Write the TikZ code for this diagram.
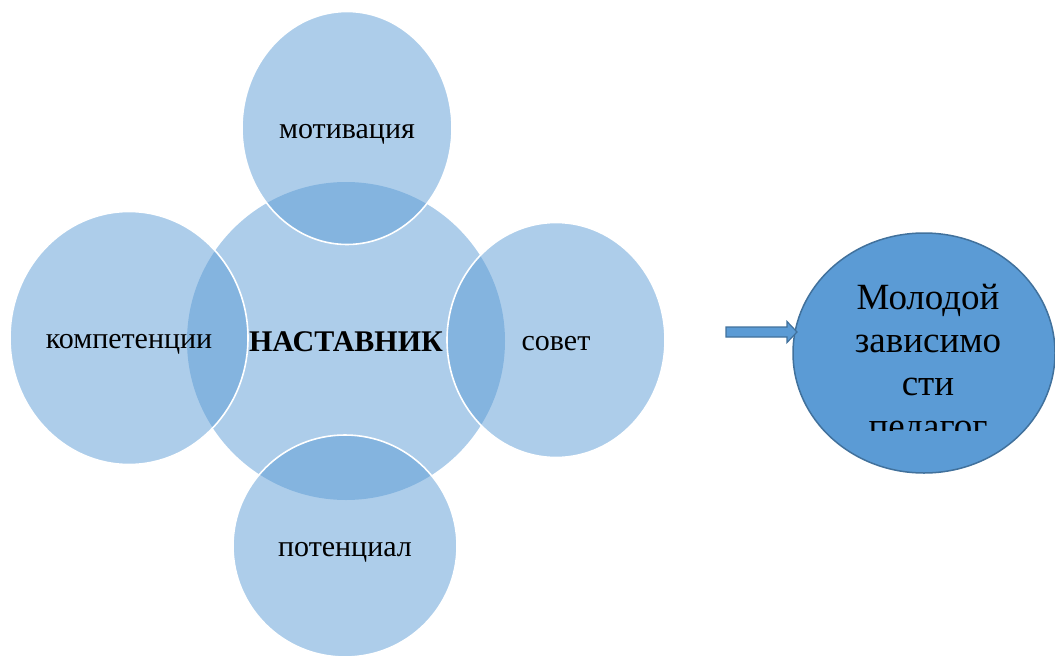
\documentclass[tikz,border=0pt]{standalone}
\usepackage{fontspec}
\setmainfont{Liberation Serif}
\usetikzlibrary{shapes, positioning}

\definecolor{accent}{HTML}{5B9BD5}
\definecolor{rim}{HTML}{41719C}

\begin{document}
\begin{tikzpicture}[x=1pt, y=-1pt,
        bubble/.style={ellipse, fill=accent, fill opacity=0.5, text opacity=1, draw=white, line width=1.6pt, inner sep=0pt, text height=20pt, text depth=0pt, font=\fontsize{30}{34}\selectfont},
        young/.style={ellipse, fill=accent, draw=rim, line width=1.5pt, minimum width=262pt, minimum height=240pt},
        youngtext/.style={align=center, inner sep=0pt, font=\fontsize{37}{42.7}\selectfont},
        blockarrow/.style={fill=accent, draw=rim, line width=1.2pt, line join=miter}]
        \useasboundingbox (0,0) rectangle (1055,659);

        \node[bubble, draw=none, minimum width=318pt, minimum height=318pt] (nast) at (346,341) {\textbf{НАСТАВНИК}};
        
        \node[bubble, minimum width=210pt, minimum height=233pt] (mot) at (347,128) {мотивация};
        \node[bubble, minimum width=238pt, minimum height=253pt] (komp) at (129,338) {компетенции};
        \node[bubble, minimum width=218pt, minimum height=235pt] (sov) at (556,340) {совет};
        \node[bubble, minimum width=224pt, minimum height=222pt] (pot) at (345,546) {потенциал};
        
        \node[young] (mol) at (924,353) {};
        \begin{scope}
            \clip (790,230) rectangle (1055,430);
            \node[youngtext, anchor=base] (moltext) at (928,438) {Молодой\\зависимо\\сти\\педагог};
        \end{scope}
        
        \coordinate (arrtail) at (726,332);
        \draw[blockarrow] (arrtail) ++(0,-5) -- ++(61,0) -- ++(0,-5.5) -- ++(10,10.5) -- ++(-10,10.5) -- ++(0,-5.5) -- ++(-61,0) -- cycle;
    \end{tikzpicture}
\end{document}
